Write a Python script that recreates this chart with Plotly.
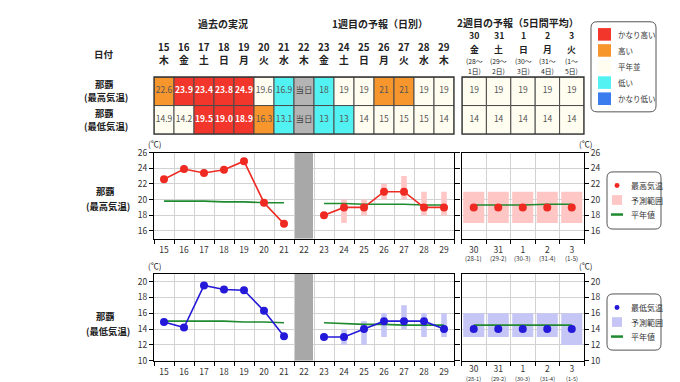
import plotly.graph_objects as go

W, H = 680, 382
FONT = "Noto Sans CJK JP"

# ---------------- data ----------------
days_w1 = [15, 16, 17, 18, 19, 20, 21, 22, 23, 24, 25, 26, 27, 28, 29]
weekdays_w1 = ['木', '金', '土', '日', '月', '火', '水', '木', '金', '土', '日', '月', '火', '水', '木']
TODAY = 22

past_days = [15, 16, 17, 18, 19, 20, 21]
past_max = [22.6, 23.9, 23.4, 23.8, 24.9, 19.6, 16.9]
past_min = [14.9, 14.2, 19.5, 19.0, 18.9, 16.3, 13.1]
past_norm_max = [19.8, 19.8, 19.8, 19.7, 19.7, 19.6, 19.6]
past_norm_min = [15.0, 15.0, 15.0, 15.0, 14.9, 14.9, 14.8]

fc_days = [23, 24, 25, 26, 27, 28, 29]
fc_max = [18, 19, 19, 21, 21, 19, 19]
fc_max_lo = [None, 17, 18, 20, 20, 18, 18]
fc_max_hi = [None, 20, 20, 22, 23, 21, 21]
fc_norm_max = [19.5, 19.5, 19.4, 19.4, 19.4, 19.3, 19.3]
fc_min = [13, 13, 14, 15, 15, 15, 14]
fc_min_lo = [None, 12, 12, 13, 14, 13, 13]
fc_min_hi = [None, 14, 15, 16, 17, 16, 16]
fc_norm_min = [14.8, 14.7, 14.6, 14.6, 14.5, 14.5, 14.5]

w2_days = ['30', '31', '1', '2', '3']
w2_weekdays = ['金', '土', '日', '月', '火']
w2_period_start = ['28〜', '29〜', '30〜', '31〜', '1〜']
w2_period_end = ['1日', '2日', '3日', '4日', '5日']
w2_period_short = ['28-1', '29-2', '30-3', '31-4', '1-5']
w2_max = [19, 19, 19, 19, 19]
w2_max_lo = [17, 17, 17, 17, 17]
w2_max_hi = [21, 21, 21, 21, 21]
w2_norm_max = [19.3, 19.3, 19.3, 19.4, 19.4]
w2_min = [14, 14, 14, 14, 14]
w2_min_lo = [13, 13, 13, 13, 12]
w2_min_hi = [16, 16, 16, 16, 16]
w2_norm_min = [14.5, 14.5, 14.5, 14.5, 14.5]

# table classes: H2=かなり高い H=高い N=平年並 L=低い L2=かなり低い T=当日
max_class_w1 = ['H', 'H2', 'H2', 'H2', 'H2', 'N', 'L', 'T', 'L', 'N', 'N', 'H', 'H', 'N', 'N']
min_class_w1 = ['N', 'N', 'H2', 'H2', 'H2', 'H', 'L', 'T', 'L', 'L', 'N', 'N', 'N', 'N', 'N']
max_class_w2 = ['N', 'N', 'N', 'N', 'N']
min_class_w2 = ['N', 'N', 'N', 'N', 'N']

class_labels = ['かなり高い', '高い', '平年並', '低い', 'かなり低い']
class_keys = ['H2', 'H', 'N', 'L', 'L2']

YR_MAX = [15, 26]
YR_MIN = [10, 21]
YTICKS_MAX = [16, 18, 20, 22, 24, 26]
YTICKS_MIN = [10, 12, 14, 16, 18, 20]

# ---------------- styles ----------------
CLASS_COLORS = {'H2': '#F2362C', 'H': '#F7962C', 'N': '#FFFDF0', 'L': '#52F2F2',
                'L2': '#3B7CEE', 'T': '#B4B4B4'}
RED = '#EE2A22'
BLUE = '#2419D9'
GREEN = '#1F8A2E'
PINK = '#FFC6C6'
LAV = '#C6C6F6'
GRID = '#D2D2D2'


def px(x):
    return x / W


def py(y):
    return 1 - y / H


# pixel layout
X1 = (146, 446)     # week1 panel / table
X2 = (453.5, 576)   # week2 panel
XT2 = (454, 576)    # week2 table
Y_TOP = (142, 231)
Y_BOT = (267, 357)
Y_TAB = (64, 123)

fig = go.Figure()


def tbl_text(values, classes, fmt):
    out, cols = [], []
    for v, c in zip(values, classes):
        if c == 'T':
            out.append('当日')
            cols.append('#444444')
        elif c == 'H2':
            out.append('<b>' + fmt(v) + '</b>')
            cols.append('white')
        else:
            out.append(fmt(v))
            cols.append('#555555')
    return out, cols


# ---- table week 1 ----
max_vals_w1 = past_max + [None] + fc_max
min_vals_w1 = past_min + [None] + fc_min
fmt_w1 = [(lambda v: f"{v:.1f}")] * len(past_days) + [str] + [(lambda v: f"{v:d}")] * len(fc_days)
for row, (vals, classes) in enumerate([(max_vals_w1, max_class_w1), (min_vals_w1, min_class_w1)]):
    fig.add_trace(go.Bar(x=days_w1, y=[1] * len(days_w1), base=[row] * len(days_w1), width=1,
                         marker=dict(color=[CLASS_COLORS[c] for c in classes],
                                     line=dict(color='#4A4A4A', width=1)),
                         xaxis='x5', yaxis='y5', showlegend=False, hoverinfo='skip'))
    texts, cols = [], []
    for v, c, f in zip(vals, classes, fmt_w1):
        t, col = tbl_text([v], [c], f)
        texts += t
        cols += col
    fig.add_trace(go.Scatter(x=days_w1, y=[row + 0.5] * len(days_w1), mode='text', text=texts,
                             textfont=dict(size=8.5, color=cols, family=FONT),
                             xaxis='x5', yaxis='y5', showlegend=False, hoverinfo='skip'))

# ---- table week 2 ----
idx2 = list(range(len(w2_days)))
for row, (vals, classes) in enumerate([(w2_max, max_class_w2), (w2_min, min_class_w2)]):
    fig.add_trace(go.Bar(x=idx2, y=[1] * len(idx2), base=[row] * len(idx2), width=1,
                         marker=dict(color=[CLASS_COLORS[c] for c in classes],
                                     line=dict(color='#4A4A4A', width=1)),
                         xaxis='x6', yaxis='y6', showlegend=False, hoverinfo='skip'))
    t, col = tbl_text(vals, classes, lambda v: f"{v:d}")
    fig.add_trace(go.Scatter(x=idx2, y=[row + 0.5] * len(idx2), mode='text', text=t,
                             textfont=dict(size=8.5, color=col, family=FONT),
                             xaxis='x6', yaxis='y6', showlegend=False, hoverinfo='skip'))


# ---- charts ----
def add_chart(xa, ya, xa2, ya2, yr, p_obs, p_norm, f_obs, f_lo, f_hi, f_norm,
              w_obs, w_lo, w_hi, w_norm, col, rng_col):
    # today bar
    fig.add_trace(go.Bar(x=[TODAY], y=[yr[1] - yr[0]], base=[yr[0]], width=0.9,
                         marker=dict(color='#A8A8A8', line=dict(width=0)),
                         xaxis=xa, yaxis=ya, showlegend=False, hoverinfo='skip'))
    # forecast range
    rx = [d for d, lo in zip(fc_days, f_lo) if lo is not None]
    rb = [lo for lo in f_lo if lo is not None]
    rh = [hi - lo for lo, hi in zip(f_lo, f_hi) if lo is not None]
    fig.add_trace(go.Bar(x=rx, y=rh, base=rb, width=0.28, marker=dict(color=rng_col, line=dict(width=0)),
                         xaxis=xa, yaxis=ya, showlegend=False, hoverinfo='skip'))
    fig.add_trace(go.Bar(x=idx2, y=[h - l for l, h in zip(w_lo, w_hi)], base=w_lo, width=0.86,
                         marker=dict(color=rng_col, line=dict(width=0)),
                         xaxis=xa2, yaxis=ya2, showlegend=False, hoverinfo='skip'))
    # normals
    for xs, ys, a, b in [(past_days, p_norm, xa, ya), (fc_days, f_norm, xa, ya), (idx2, w_norm, xa2, ya2)]:
        fig.add_trace(go.Scatter(x=xs, y=ys, mode='lines', line=dict(color=GREEN, width=1.6),
                                 xaxis=a, yaxis=b, showlegend=False, hoverinfo='skip'))
    # observations / forecasts
    for xs, ys in [(past_days, p_obs), (fc_days, f_obs)]:
        fig.add_trace(go.Scatter(x=xs, y=ys, mode='lines+markers', line=dict(color=col, width=1.6),
                                 marker=dict(color=col, size=8),
                                 xaxis=xa, yaxis=ya, showlegend=False, hoverinfo='skip'))
    fig.add_trace(go.Scatter(x=idx2, y=w_obs, mode='markers', marker=dict(color=col, size=8),
                             xaxis=xa2, yaxis=ya2, showlegend=False, hoverinfo='skip'))


add_chart('x', 'y', 'x2', 'y2', YR_MAX, past_max, past_norm_max, fc_max, fc_max_lo, fc_max_hi,
          fc_norm_max, w2_max, w2_max_lo, w2_max_hi, w2_norm_max, RED, PINK)
add_chart('x3', 'y3', 'x4', 'y4', YR_MIN, past_min, past_norm_min, fc_min, fc_min_lo, fc_min_hi,
          fc_norm_min, w2_min, w2_min_lo, w2_min_hi, w2_norm_min, BLUE, LAV)

tickfont = dict(size=8.5, color='#333333', family=FONT)


def xaxis_w1(anchor):
    return dict(domain=[px(X1[0]), px(X1[1])], range=[days_w1[0] - 0.5, days_w1[-1] + 0.5],
                anchor=anchor, tickvals=days_w1, ticktext=[str(d) for d in days_w1], ticks='',
                tickfont=tickfont, showgrid=False, zeroline=False, showline=True, linecolor='black',
                linewidth=1.3, mirror=True, fixedrange=True, ticklabelstandoff=3,
                minor=dict(tickvals=[d - 0.5 for d in days_w1] + [days_w1[-1] + 0.5], showgrid=True,
                           gridcolor=GRID, gridwidth=1, ticks='outside', ticklen=4, tickcolor='black'))


def xaxis_w2(anchor, standoff=3):
    return dict(domain=[px(X2[0]), px(X2[1])], range=[-0.5, len(idx2) - 0.5], anchor=anchor,
                tickvals=idx2, ticktext=w2_days,
                ticks='', tickfont=tickfont,
                showgrid=False, zeroline=False, showline=True,
                linecolor='black', linewidth=1.3, mirror=True, fixedrange=True, ticklabelstandoff=standoff,
                minor=dict(tickvals=[i - 0.5 for i in idx2] + [len(idx2) - 0.5], showgrid=True,
                           gridcolor=GRID, gridwidth=1, ticks='outside', ticklen=4, tickcolor='black'))


def yaxis_c(anchor, ydom, yr, tv, side='left'):
    return dict(domain=[py(ydom[1]), py(ydom[0])], range=yr, anchor=anchor, side=side,
                tickvals=tv, ticks='outside', ticklen=4,
                tickcolor='black', tickfont=tickfont, showgrid=True, gridcolor=GRID, gridwidth=1,
                zeroline=False, showline=True, linecolor='black', linewidth=1.3, mirror='ticks',
                fixedrange=True)


layout = dict(
    width=W, height=H, margin=dict(l=0, r=0, t=0, b=0), paper_bgcolor='white', plot_bgcolor='white',
    barmode='overlay', showlegend=False, font=dict(family=FONT, color='#222222'),
    xaxis=xaxis_w1('y'), yaxis=yaxis_c('x', Y_TOP, YR_MAX, YTICKS_MAX),
    xaxis2=xaxis_w2('y2'), yaxis2=yaxis_c('x2', Y_TOP, YR_MAX, YTICKS_MAX, side='right'),
    xaxis3=xaxis_w1('y3'), yaxis3=yaxis_c('x3', Y_BOT, YR_MIN, YTICKS_MIN),
    xaxis4=xaxis_w2('y4', standoff=0), yaxis4=yaxis_c('x4', Y_BOT, YR_MIN, YTICKS_MIN, side='right'),
    xaxis5=dict(domain=[px(X1[0]), px(X1[1])], range=[days_w1[0] - 0.5, days_w1[-1] + 0.5], anchor='y5',
                visible=False, fixedrange=True),
    yaxis5=dict(domain=[py(Y_TAB[1]), py(Y_TAB[0])], range=[2, 0], anchor='x5', visible=False, fixedrange=True),
    xaxis6=dict(domain=[px(XT2[0]), px(XT2[1])], range=[-0.5, len(idx2) - 0.5], anchor='y6',
                visible=False, fixedrange=True),
    yaxis6=dict(domain=[py(Y_TAB[1]), py(Y_TAB[0])], range=[2, 0], anchor='x6', visible=False, fixedrange=True),
)
fig.update_layout(**layout)

# table outer borders
for xr, yr_ in [('x5 domain', 'y5 domain'), ('x6 domain', 'y6 domain')]:
    fig.add_shape(type='rect', xref=xr, yref=yr_, x0=0, x1=1, y0=0, y1=1,
                  line=dict(color='#333333', width=1.3), fillcolor='rgba(0,0,0,0)')

ann = []


def A(x, y, text, size=9, xanchor='center', color='#222222', xref='paper', yref='paper',
      yanchor='middle', **kw):
    ann.append(dict(x=x if xref != 'paper' else px(x), y=y if yref != 'paper' else py(y), xref=xref,
                    yref=yref, text=text, showarrow=False, xanchor=xanchor, yanchor=yanchor,
                    borderpad=0, font=dict(size=size, color=color, family=FONT), **kw))


# headers
A(215, 9, '<b>過去の実況</b>', 10)
A(372, 9, '<b>1週目の予報（日別）</b>', 10)
A(510, 8, '<b>2週目の予報（5日間平均）</b>', 10)
A(96, 40, '<b>日付</b>', 9.5)
# row labels
A(96, 71.5, '<b>那覇</b>', 9.3)
A(98, 85, '<b>(最高気温)</b>', 9.3)
A(96, 101, '<b>那覇</b>', 9.3)
A(98, 114.5, '<b>(最低気温)</b>', 9.3)
A(97, 182, '<b>那覇</b>', 9.3)
A(100, 197, '<b>(最高気温)</b>', 9.3)
A(97, 311, '<b>那覇</b>', 9.3)
A(100, 326, '<b>(最低気温)</b>', 9.3)

for d, wd in zip(days_w1, weekdays_w1):
    A(d, 33, f'<b>{d}</b>', 9.8, xref='x5')
    A(d, 46, f'<b>{wd}</b>', 9.8, xref='x5')
for i, (d, wd, s, e) in enumerate(zip(w2_days, w2_weekdays, w2_period_start, w2_period_end)):
    A(i, 21.5, f'<b>{d}</b>', 8.8, xref='x6')
    A(i, 35.5, f'<b>{wd}</b>', 8.8, xref='x6')
    A(i, 48, f'({s}', 6.8, xref='x6')
    A(i, 58, f'{e})', 6.8, xref='x6')

# sub labels of week-2 chart axes
for i, p in enumerate(w2_period_short):
    A(i, 251, f'({p})', 6.2, xref='x2', color='#333333')
    A(i, 375.5, f'({p})', 5.6, xref='x4', color='#333333')

# units
A(146, 133, '(℃)', 8)
A(577, 133, '(℃)', 8)
A(146, 259, '(℃)', 8)
A(577, 259, '(℃)', 8)

shapes = []


def rounded(x0, y0, x1, y1, r=5):
    pts = (f"M {px(x0 + r)},{py(y0)} L {px(x1 - r)},{py(y0)} Q {px(x1)},{py(y0)} {px(x1)},{py(y0 + r)} "
           f"L {px(x1)},{py(y1 - r)} Q {px(x1)},{py(y1)} {px(x1 - r)},{py(y1)} "
           f"L {px(x0 + r)},{py(y1)} Q {px(x0)},{py(y1)} {px(x0)},{py(y1 - r)} "
           f"L {px(x0)},{py(y0 + r)} Q {px(x0)},{py(y0)} {px(x0 + r)},{py(y0)} Z")
    shapes.append(dict(type='path', path=pts, xref='paper', yref='paper',
                       line=dict(color='#555555', width=1), fillcolor='white'))


# class legend
rounded(583, 7, 648, 100, 6)
for k, (lab, key) in enumerate(zip(class_labels, class_keys)):
    yc = 20 + k * 16.6
    shapes.append(dict(type='rect', xref='paper', yref='paper', x0=px(590), x1=px(603),
                       y0=py(yc - 6.5), y1=py(yc + 6.5), fillcolor=CLASS_COLORS[key], line=dict(width=0)))
    A(609, yc, lab, 7.5, xanchor='left', color='#333333')

# chart legends
for (y0, y1), col, rng_col, lab in [((162, 221), RED, PINK, '最高気温'), ((288, 346), BLUE, LAV, '最低気温')]:
    rounded(599, y0, 653, y1, 6)
    yc = y0 + 14
    shapes.append(dict(type='circle', xref='paper', yref='paper', x0=px(606.5), x1=px(611.5),
                       y0=py(yc + 2.5), y1=py(yc - 2.5), fillcolor=col, line=dict(width=0)))
    A(622, yc, lab, 8, xanchor='left', color='#333333')
    yc += 15
    shapes.append(dict(type='rect', xref='paper', yref='paper', x0=px(604), x1=px(614),
                       y0=py(yc + 5), y1=py(yc - 5), fillcolor=rng_col, line=dict(width=0)))
    A(622, yc, '予測範囲', 8, xanchor='left', color='#333333')
    yc += 15
    shapes.append(dict(type='line', xref='paper', yref='paper', x0=px(603), x1=px(615),
                       y0=py(yc), y1=py(yc), line=dict(color=GREEN, width=2.5)))
    A(622, yc, '平年値', 8, xanchor='left', color='#333333')

for s in shapes:
    fig.add_shape(**s)
fig.update_layout(annotations=ann)

fig.write_html("out.html")
